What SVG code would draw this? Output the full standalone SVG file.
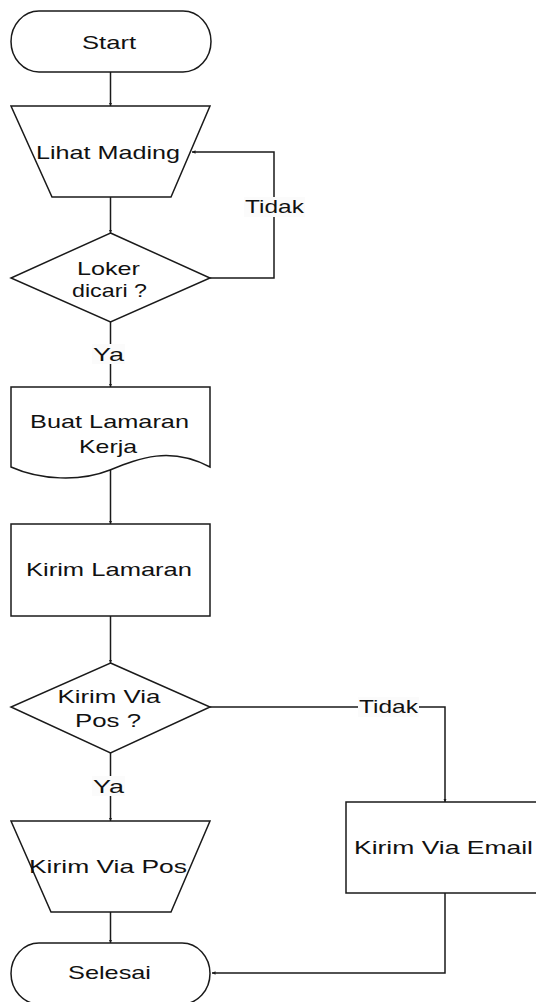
<svg xmlns="http://www.w3.org/2000/svg" width="536" height="1002" viewBox="0 0 536 1002">
  <style>
    .shape { fill: #ffffff; stroke: #1a1a1a; stroke-width: 1.5; }
    .wire { fill: none; stroke: #1a1a1a; stroke-width: 1.5; marker-end: url(#tip); }
    .txt { font-family: "Liberation Sans", Arial, sans-serif; font-size: 19px; fill: #111; text-anchor: middle; }
    .lblbg { fill: #fbfbfb; stroke: none; }
  </style>
  <defs>
    <marker id="tip" viewBox="0 0 6 6" refX="6" refY="3" markerWidth="3.5" markerHeight="3.5" markerUnits="userSpaceOnUse" orient="auto">
      <path d="M0,0 L6,3 L0,6 Z" fill="#1a1a1a"/>
    </marker>
  </defs>

  <rect width="536" height="1002" fill="#ffffff"/>

  <!-- connectors -->
  <g id="connectors">
    <path class="wire" d="M110.5,72 V106"/>
    <path class="wire" d="M110.5,197 V233"/>
    <path class="wire" d="M210,278 H274 V152 H192"/>
    <path class="wire" d="M110.5,322 V387"/>
    <path class="wire" d="M110.5,470 V524"/>
    <path class="wire" d="M110.5,616 V663"/>
    <path class="wire" d="M110.5,753 V821"/>
    <path class="wire" d="M210,707 H445 V802"/>
    <path class="wire" d="M110.5,912 V943"/>
    <path class="wire" d="M445,893 V973 H212"/>
    <!-- branch labels -->
    <g id="lbl-tidak-1">
      <rect class="lblbg" x="244" y="197" width="61" height="20"/>
      <text class="txt" x="274.5" y="213" textLength="59" lengthAdjust="spacingAndGlyphs">Tidak</text>
    </g>
    <g id="lbl-ya-1">
      <rect class="lblbg" x="92" y="344" width="33" height="20"/>
      <text class="txt" x="108.5" y="361" textLength="31" lengthAdjust="spacingAndGlyphs">Ya</text>
    </g>
    <g id="lbl-tidak-2">
      <rect class="lblbg" x="358" y="697" width="61" height="20"/>
      <text class="txt" x="388.5" y="713" textLength="59" lengthAdjust="spacingAndGlyphs">Tidak</text>
    </g>
    <g id="lbl-ya-2">
      <rect class="lblbg" x="92" y="776" width="33" height="20"/>
      <text class="txt" x="108.5" y="793" textLength="31" lengthAdjust="spacingAndGlyphs">Ya</text>
    </g>
  </g>

  <!-- terminal: start -->
  <g id="start">
    <rect class="shape" x="11" y="11" width="200" height="61" rx="28" ry="30.5"/>
    <text class="txt" x="109" y="49" textLength="54" lengthAdjust="spacingAndGlyphs">Start</text>
  </g>

  <!-- manual operation: lihat mading -->
  <g id="lihat-mading">
    <path class="shape" d="M11,106 H210 L171,197 H52 Z"/>
    <text class="txt" x="108" y="159" textLength="144" lengthAdjust="spacingAndGlyphs">Lihat Mading</text>
  </g>

  <!-- decision: loker dicari -->
  <g id="loker-dicari">
    <path class="shape" d="M110.5,233 L210,278 L110.5,322 L11,278 Z"/>
    <text class="txt" x="108.5" y="275" textLength="63" lengthAdjust="spacingAndGlyphs">Loker</text>
    <text class="txt" x="109.5" y="297" textLength="75" lengthAdjust="spacingAndGlyphs">dicari ?</text>
  </g>

  <!-- document: buat lamaran kerja -->
  <g id="buat-lamaran">
    <path class="shape" d="M11,387 H210 V467 C170,446 140,458 110,470 C80,482 40,480 11,467 Z"/>
    <text class="txt" x="109.5" y="428" textLength="159" lengthAdjust="spacingAndGlyphs">Buat Lamaran</text>
    <text class="txt" x="108" y="453" textLength="58" lengthAdjust="spacingAndGlyphs">Kerja</text>
  </g>

  <!-- process: kirim lamaran -->
  <g id="kirim-lamaran">
    <rect class="shape" x="11" y="524" width="199" height="92"/>
    <text class="txt" x="109" y="576" textLength="166" lengthAdjust="spacingAndGlyphs">Kirim Lamaran</text>
  </g>

  <!-- decision: kirim via pos -->
  <g id="kirim-via-pos-q">
    <path class="shape" d="M110.5,663 L210,707 L110.5,753 L11,707 Z"/>
    <text class="txt" x="109" y="703" textLength="103" lengthAdjust="spacingAndGlyphs">Kirim Via</text>
    <text class="txt" x="108" y="727" textLength="66" lengthAdjust="spacingAndGlyphs">Pos ?</text>
  </g>

  <!-- manual operation: kirim via pos -->
  <g id="kirim-via-pos">
    <path class="shape" d="M11,821 H210 L171,912 H51 Z"/>
    <text class="txt" x="108" y="873" textLength="158" lengthAdjust="spacingAndGlyphs">Kirim Via Pos</text>
  </g>

  <!-- process: kirim via email -->
  <g id="kirim-via-email">
    <rect class="shape" x="346" y="802" width="198" height="91"/>
    <text class="txt" x="443.5" y="854" textLength="179" lengthAdjust="spacingAndGlyphs">Kirim Via Email</text>
  </g>

  <!-- terminal: selesai -->
  <g id="selesai">
    <rect class="shape" x="11" y="943" width="199" height="61" rx="28" ry="30.5"/>
    <text class="txt" x="109.5" y="979" textLength="83" lengthAdjust="spacingAndGlyphs">Selesai</text>
  </g>
</svg>
